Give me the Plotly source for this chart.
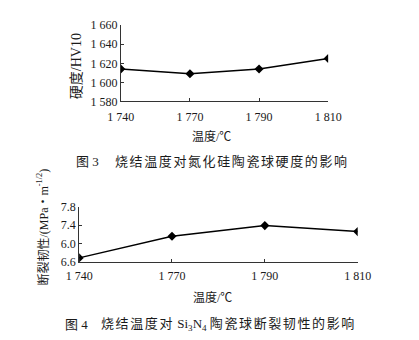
import plotly.graph_objects as go

# Sintering temperature (category labels, thin-space thousands style)
temperatures = ["1 740", "1 770", "1 790", "1 810"]

# Hardness HV10 vs sintering temperature
hardness = [1614, 1609, 1614, 1625]
hardness_ticks = [1580, 1600, 1620, 1640, 1660]
hardness_ticktext = ["1 580", "1 600", "1 620", "1 640", "1 660"]

# Fracture toughness vs sintering temperature
toughness = [6.69, 7.16, 7.39, 7.26]
toughness_ticks = [6.6, 7.0, 7.4, 7.8]
toughness_ticktext = ["6.6", "6.0", "7.4", "7.8"]

W, H = 419, 340
SERIF = "Liberation Serif, Times New Roman, Noto Sans CJK SC, serif"
INK = "#1a1a1a"


def px(x):
    return x / W


def py(y):
    return (H - y) / H


fig = go.Figure()

line_style = dict(color="black", width=1.5)
marker_style = dict(symbol="diamond", size=7, color="black")

fig.add_trace(go.Scatter(x=temperatures, y=hardness, mode="lines+markers",
                         line=line_style, marker=marker_style,
                         xaxis="x", yaxis="y", showlegend=False))
fig.add_trace(go.Scatter(x=temperatures, y=toughness, mode="lines+markers",
                         line=line_style, marker=marker_style,
                         xaxis="x2", yaxis="y2", showlegend=False))

axis_common = dict(
    showgrid=False, zeroline=False, showline=True, linecolor="#333333",
    linewidth=1, ticks="inside", ticklen=3, tickcolor="#333333",
    tickfont=dict(family=SERIF, size=12, color=INK),
)

fig.update_layout(
    width=W, height=H,
    margin=dict(l=0, r=0, t=0, b=0),
    paper_bgcolor="white", plot_bgcolor="white",
    xaxis=dict(axis_common, type="category", range=[0, 3],
               domain=[px(115), px(336)], anchor="y", ticklabelstandoff=4),
    yaxis=dict(axis_common, range=[1580, 1660], tickvals=hardness_ticks,
               ticktext=hardness_ticktext,
               domain=[py(98.5), py(19)], anchor="x"),
    xaxis2=dict(axis_common, type="category", range=[0, 3],
                domain=[px(70.5), px(367.5)], anchor="y2", ticklabelstandoff=3),
    yaxis2=dict(axis_common, range=[6.6, 7.8], tickvals=toughness_ticks,
                ticktext=toughness_ticktext,
                domain=[py(266), py(208.3)], anchor="x2"),
)

font12 = dict(family=SERIF, size=12, color=INK)
font13 = dict(family=SERIF, size=13, color=INK)
font14 = dict(family=SERIF, size=14, color=INK)


def spaced(text, gap):
    return f'<span style="letter-spacing:{gap}px">{text}</span>'


annotations = [
    # Top chart titles
    dict(text="硬度/HV10", x=px(68), y=py(62), textangle=-90, font=font14),
    dict(text="温度/℃", x=px(212), y=py(135), font=font12),
    dict(text="图 3", x=px(65), y=py(161), xanchor="left", font=font13),
    dict(text=spaced("烧结温度对氮化硅陶瓷球硬度的影响", 1.6),
         x=px(107), y=py(161), xanchor="left", font=font13),
    # Bottom chart titles
    dict(text="断裂韧性/(MPa・m<sup>-1/2</sup>)", x=px(32), y=py(230),
         textangle=-90, font=font12),
    dict(text="温度/℃", x=px(213), y=py(303), font=font12),
    dict(text="图 4", x=px(53), y=py(331), xanchor="left", font=font13),
    dict(text=spaced("烧结温度对", 1.6) + " Si<sub>3</sub>N<sub>4</sub> "
         + spaced("陶瓷球断裂韧性的影响", 1.6),
         x=px(92), y=py(331), xanchor="left", font=font13),
]
for a in annotations:
    a.setdefault("xanchor", "center")
    fig.add_annotation(xref="paper", yref="paper", showarrow=False,
                       yanchor="middle", **a)

fig.write_html("out.html")
